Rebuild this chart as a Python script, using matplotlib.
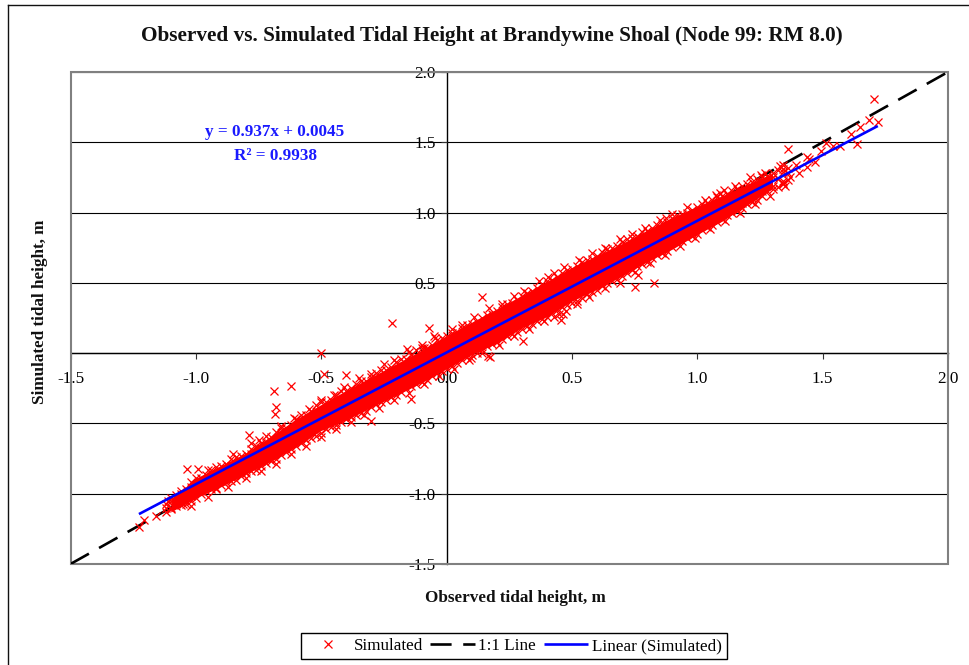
import matplotlib
matplotlib.use("Agg")
import matplotlib.pyplot as plt
from matplotlib.lines import Line2D
from matplotlib.patches import Rectangle

plt.rcParams['font.family'] = ['Liberation Serif', 'DejaVu Serif']

title = "Observed vs. Simulated Tidal Height at Brandywine Shoal (Node 99: RM 8.0)"
x_label = "Observed tidal height, m"
y_label = "Simulated tidal height, m"
tick_values = [-1.5, -1.0, -0.5, 0.0, 0.5, 1.0, 1.5, 2.0]
tick_labels = ["-1.5", "-1.0", "-0.5", "0.0", "0.5", "1.0", "1.5", "2.0"]

obs_a = [-1.12,-1.08,-1.04,-1.00,-0.96,-0.92,-0.88,-0.84,-0.80,-0.76,-0.72,-0.68,-0.64,-0.60,-0.56,-0.52,
         -0.48,-0.44,-0.40,-0.36,-0.32,-0.28,-0.24,-0.20,-0.16,-0.12,-0.08,-0.04,0.00,0.04,0.08,0.12,
         0.16,0.20,0.24,0.28,0.32,0.36,0.40,0.44,0.48,0.52,0.56,0.60,0.64,0.68,0.72,0.76,
         0.80,0.84,0.88,0.92,0.96,1.00,1.04,1.08,1.12,1.16,1.20,1.24,1.28,1.32,1.36]
sim_a_up = [-1.07,-1.01,-0.97,-0.89,-0.87,-0.81,-0.79,-0.74,-0.72,-0.66,-0.63,-0.56,-0.53,-0.47,-0.44,-0.37,
            -0.35,-0.30,-0.27,-0.22,-0.20,-0.14,-0.12,-0.06,-0.04,0.02,0.04,0.09,0.12,0.15,0.20,0.22,
            0.27,0.30,0.35,0.38,0.43,0.46,0.51,0.54,0.59,0.62,0.66,0.69,0.74,0.76,0.81,0.83,
            0.87,0.91,0.93,0.98,1.00,1.04,1.07,1.11,1.13,1.17,1.20,1.24,1.26,1.30,1.32]
sim_a_mid = [-1.10,-1.06,-1.01,-0.96,-0.925,-0.89,-0.855,-0.82,-0.785,-0.745,-0.70,-0.655,-0.61,-0.57,-0.525,-0.485,
             -0.445,-0.41,-0.37,-0.335,-0.295,-0.26,-0.22,-0.185,-0.145,-0.11,-0.07,-0.035,0.005,0.04,0.08,0.117,
             0.155,0.19,0.23,0.27,0.305,0.34,0.38,0.42,0.455,0.49,0.53,0.57,0.60,0.64,0.68,0.72,
             0.755,0.79,0.83,0.87,0.905,0.94,0.98,1.015,1.055,1.09,1.13,1.165,1.205,1.24,1.28]
sim_a_low = [-1.13,-1.09,-1.07,-1.03,-0.98,-0.96,-0.92,-0.90,-0.85,-0.83,-0.78,-0.75,-0.70,-0.66,-0.62,-0.59,
             -0.54,-0.51,-0.47,-0.44,-0.41,-0.36,-0.33,-0.30,-0.25,-0.22,-0.19,-0.14,-0.11,-0.07,-0.03,0.00,
             0.05,0.08,0.12,0.15,0.19,0.23,0.26,0.31,0.34,0.37,0.42,0.45,0.50,0.53,0.57,0.62,
             0.65,0.70,0.73,0.78,0.82,0.85,0.90,0.93,0.98,1.01,1.06,1.09,1.15,1.18,1.23]

obs_b = [-1.10,-1.06,-1.02,-0.98,-0.94,-0.90,-0.86,-0.82,-0.78,-0.74,-0.70,-0.66,-0.62,-0.58,-0.54,-0.50,
         -0.46,-0.42,-0.38,-0.34,-0.30,-0.26,-0.22,-0.18,-0.14,-0.10,-0.06,-0.02,0.02,0.06,0.10,0.14,
         0.18,0.22,0.26,0.30,0.34,0.38,0.42,0.46,0.50,0.54,0.58,0.62,0.66,0.70,0.74,0.78,
         0.82,0.86,0.90,0.94,0.98,1.02,1.06,1.10,1.14,1.18,1.22,1.26,1.30,1.34]
sim_b_up = [-1.05,-1.00,-0.95,-0.92,-0.875,-0.84,-0.80,-0.765,-0.72,-0.675,-0.63,-0.585,-0.545,-0.50,-0.455,-0.41,
            -0.37,-0.335,-0.295,-0.26,-0.22,-0.18,-0.145,-0.105,-0.07,-0.03,0.01,0.045,0.085,0.12,0.16,0.20,
            0.235,0.275,0.315,0.35,0.39,0.43,0.47,0.505,0.545,0.58,0.62,0.655,0.69,0.73,0.765,0.80,
            0.835,0.87,0.905,0.94,0.975,1.01,1.05,1.08,1.115,1.15,1.185,1.22,1.255,1.29]
sim_b_low = [-1.10,-1.06,-1.015,-0.98,-0.945,-0.91,-0.88,-0.845,-0.805,-0.765,-0.725,-0.68,-0.64,-0.60,-0.555,-0.52,
             -0.48,-0.445,-0.41,-0.37,-0.335,-0.30,-0.26,-0.225,-0.19,-0.15,-0.11,-0.075,-0.035,0.00,0.04,0.075,
             0.115,0.15,0.19,0.23,0.265,0.305,0.34,0.38,0.415,0.455,0.49,0.53,0.57,0.605,0.645,0.68,
             0.72,0.76,0.795,0.835,0.87,0.91,0.95,0.985,1.03,1.07,1.105,1.15,1.19,1.225]
sim_b_edge_up = [-1.03,-0.98,-0.92,-0.89,-0.83,-0.80,-0.75,-0.73,-0.68,-0.64,-0.60,-0.53,-0.51,-0.44,-0.41,-0.35,
                 -0.33,-0.27,-0.25,-0.20,-0.17,-0.12,-0.10,-0.04,-0.01,0.04,0.06,0.11,0.14,0.18,0.21,0.25,
                 0.28,0.33,0.36,0.41,0.44,0.49,0.52,0.57,0.60,0.65,0.67,0.72,0.75,0.79,0.82,0.86,
                 0.89,0.92,0.96,0.99,1.02,1.06,1.09,1.12,1.15,1.19,1.22,1.25,1.28,1.31]
sim_b_edge_low = [-1.11,-1.08,-1.05,-1.00,-0.97,-0.94,-0.91,-0.875,-0.84,-0.805,-0.765,-0.725,-0.68,-0.64,-0.605,-0.565,
                  -0.525,-0.49,-0.455,-0.425,-0.385,-0.345,-0.315,-0.275,-0.235,-0.205,-0.165,-0.125,-0.09,-0.05,-0.015,0.025,
                  0.065,0.10,0.135,0.17,0.21,0.245,0.285,0.325,0.355,0.395,0.435,0.475,0.515,0.55,0.595,0.635,
                  0.675,0.715,0.755,0.80,0.835,0.875,0.915,0.955,0.995,1.035,1.075,1.12,1.165,1.205]

# irregular points standing just outside the band
obs_rim_up = [-0.95,-0.85,-0.78,-0.72,-0.66,-0.61,-0.55,-0.50,-0.45,-0.41,-0.35,-0.30,-0.25,-0.21,-0.15,-0.10,-0.05,0.02,0.06,0.11,0.17,
              0.22,0.27,0.31,0.37,0.43,0.47,0.53,0.58,0.63,0.69,0.74,0.79,0.85,0.90,0.96,1.03,1.09,1.15,1.21,1.27,1.33]
sim_rim_up = [-0.83,-0.72,-0.64,-0.59,-0.52,-0.46,-0.40,-0.33,-0.30,-0.24,-0.18,-0.15,-0.08,-0.05,0.01,0.06,0.12,0.17,0.20,0.26,0.32,
              0.35,0.41,0.44,0.51,0.57,0.61,0.66,0.71,0.75,0.81,0.85,0.89,0.95,0.99,1.04,1.09,1.14,1.19,1.25,1.28,1.33]
obs_rim_low = [-1.02,-0.95,-0.87,-0.80,-0.74,-0.68,-0.62,-0.56,-0.50,-0.44,-0.38,-0.33,-0.27,-0.21,-0.15,-0.09,-0.03,0.03,0.09,0.14,
               0.21,0.27,0.33,0.39,0.45,0.52,0.57,0.63,0.69,0.75,0.81,0.87,0.93,0.99,1.05,1.11,1.17,1.23,1.29,1.35]
sim_rim_low = [-1.09,-1.02,-0.95,-0.89,-0.84,-0.79,-0.72,-0.66,-0.60,-0.54,-0.49,-0.44,-0.39,-0.33,-0.28,-0.22,-0.16,-0.11,-0.05,0.00,
               0.06,0.12,0.17,0.23,0.28,0.35,0.40,0.46,0.50,0.58,0.64,0.70,0.76,0.82,0.88,0.94,1.00,1.06,1.12,1.19]

# solid mass of overplotted points, read as an envelope
core_x = [-1.10,-1.00,-0.90,-0.80,-0.70,-0.60,-0.50,-0.40,-0.30,-0.20,-0.10,0.00,0.10,0.20,0.30,0.40,0.50,
          0.60,0.70,0.80,0.90,1.00,1.10,1.20,1.30]
core_up = [-1.04,-0.89,-0.80,-0.71,-0.59,-0.47,-0.365,-0.265,-0.17,-0.075,0.02,0.125,0.22,0.315,0.41,0.51,0.61,
           0.695,0.78,0.875,0.965,1.045,1.12,1.20,1.28]
core_low = [-1.13,-1.03,-0.95,-0.86,-0.77,-0.665,-0.55,-0.475,-0.385,-0.30,-0.21,-0.11,-0.01,0.07,0.18,0.26,0.37,
            0.455,0.55,0.65,0.74,0.845,0.94,1.055,1.17]

obs_tail = [-1.227,-1.205,-1.157,-1.11,-1.05,-1.034,-0.99,-0.919,-0.79,-0.75,-0.69,-0.682,-0.686,-0.62,-0.501,-0.489,-0.403,
            -0.30,-0.218,-0.158,-0.141,-0.09,-0.07,-0.047,0.098,0.142,0.165,0.175,0.305,0.404,0.43,0.458,0.465,0.475,
            0.75,0.763,0.826,0.877,1.076,1.106,1.122,1.256,1.342,1.342,1.362,1.369,1.395,1.406,1.436,1.438,1.446,1.471,
            1.492,1.513,1.54,1.569,1.612,1.639,1.648,1.684,1.703,1.719]
sim_tail = [-1.24,-1.19,-1.16,-1.05,-1.07,-0.827,-0.827,-0.967,-0.583,-0.615,-0.27,-0.386,-0.436,-0.235,0.0,-0.15,-0.154,
            -0.48,0.211,0.026,-0.325,0.04,0.178,0.109,-0.036,0.398,-0.021,-0.03,0.085,0.543,0.258,0.235,0.282,0.30,
            0.47,0.555,0.498,0.96,1.124,1.159,1.124,1.266,1.337,1.207,1.449,1.25,1.337,1.278,1.396,1.321,1.384,1.361,
            1.439,1.496,1.472,1.472,1.558,1.486,1.61,1.657,1.806,1.645]

line_11_x = [-1.5, 2.0]
line_11_y = [-1.5, 2.0]
trend_x = [-1.227, 1.72]
trend_y = [-1.145, 1.616]

W, H = 969, 665
fig = plt.figure(figsize=(W / 100, H / 100), dpi=100, facecolor='white')
ax = fig.add_axes([70.5 / W, 1 - 564 / H, (948 - 70.5) / W, (564 - 72) / H])
ax.set_xlim(-1.5, 2.0)
ax.set_ylim(-1.5, 2.0)
ax.set_xticks(tick_values)
ax.set_xticklabels(tick_labels)
ax.set_yticks(tick_values)
ax.set_yticklabels(tick_labels)

ax.hlines(tick_values, -1.5, 2.0, colors='black', linewidth=0.8, zorder=1)

for side in ('top', 'right'):
    ax.spines[side].set_visible(False)
for side in ('left', 'bottom'):
    ax.spines[side].set_position(('data', 0))
    ax.spines[side].set_linewidth(1.0)
    ax.spines[side].set_zorder(1.5)
ax.add_patch(Rectangle((0, 0), 1, 1, transform=ax.transAxes, fill=False,
                       edgecolor='#808080', linewidth=1.5, zorder=1.6, clip_on=False))

ax.tick_params(axis='x', direction='out', length=4, width=0.8, pad=9, labelsize=12.3, color='#333333')
ax.tick_params(axis='y', direction='out', length=4, width=0.8, pad=4, labelsize=12.3, color='#333333')

ax.fill_between(core_x, core_low, core_up, color='#FF0000', linewidth=0, zorder=2)

mk = dict(linestyle='none', marker='x', color='#FF0000', markersize=5.2, markeredgewidth=0.9, zorder=2)
pts, = ax.plot(obs_a, sim_a_up, label='Simulated', **mk)
ax.plot(obs_a, sim_a_mid, **mk)
ax.plot(obs_a, sim_a_low, **mk)
ax.plot(obs_b, sim_b_up, **mk)
ax.plot(obs_b, sim_b_low, **mk)
ax.plot(obs_b, sim_b_edge_up, **mk)
ax.plot(obs_b, sim_b_edge_low, **mk)
ax.plot(obs_rim_up, sim_rim_up, **mk)
ax.plot(obs_rim_low, sim_rim_low, **mk)
ax.plot(obs_tail, sim_tail, **mk)

ax.plot(line_11_x, line_11_y, color='black', linewidth=1.9, dashes=(8, 4.4),
        dash_capstyle='butt', label='1:1 Line', zorder=1.9)
ax.plot(trend_x, trend_y, color='#0000FF', linewidth=1.9, label='Linear (Simulated)', zorder=2.2,
        solid_capstyle='butt')

def px(x, y):
    return x / W, 1 - y / H

fig.text(*px(492, 36.5), title, ha='center', va='center', fontsize=15.35, fontweight='bold', color='#111111')
fig.text(*px(515, 598), x_label, ha='center', va='center', fontsize=12.3, fontweight='bold', color='#111111')
fig.text(*px(40, 312), y_label, ha='center', va='center', rotation=90, fontsize=12.3, fontweight='bold', color='#111111')
fig.text(*px(275, 132), "y = 0.937x + 0.0045", ha='center', va='center', fontsize=12.3, fontweight='bold', color='#1a1aff')
fig.text(*px(275, 156), "R\u00b2 = 0.9938", ha='center', va='center', fontsize=12.3, fontweight='bold', color='#1a1aff')

leg = fig.legend(loc='center', bbox_to_anchor=px(513.5, 646), ncol=3, fontsize=12.3, frameon=True,
                 fancybox=False, edgecolor='black', framealpha=1, handlelength=2.6,
                 handletextpad=0.2, columnspacing=0.45, borderpad=0.3, borderaxespad=0)
leg.get_frame().set_linewidth(1.0)

fig.add_artist(Line2D([7.5 / W, 7.5 / W], [0, 1 - 5 / H], color='#111111', linewidth=1.0))
fig.add_artist(Line2D([7.5 / W, 1], [1 - 5 / H, 1 - 5 / H], color='#111111', linewidth=1.0))

fig.savefig('out.png', dpi=100)
